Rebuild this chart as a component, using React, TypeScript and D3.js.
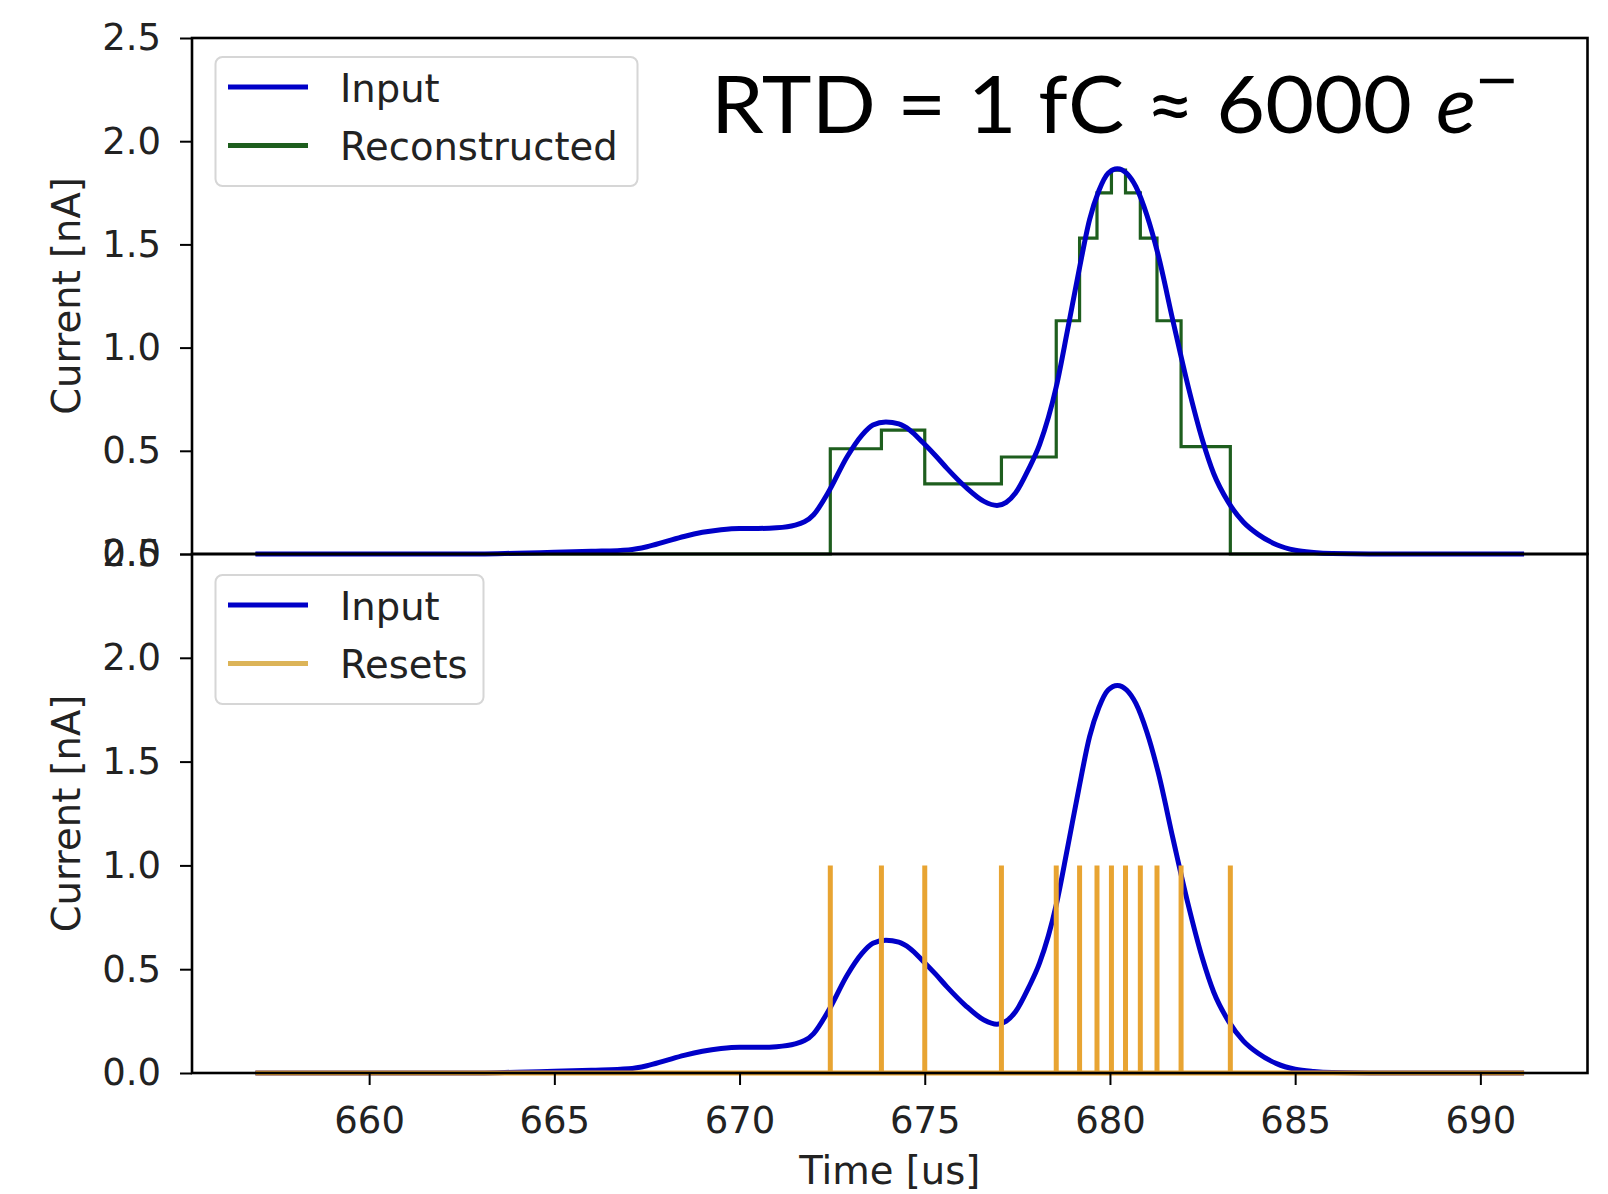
import { useEffect, useRef } from 'react';
import * as d3 from 'd3';

// input current, same trace in both panels [us, nA]
const inputTime = [
    656.93, 660, 663, 664, 665, 666, 667, 667.5, 668, 668.5, 669, 669.5, 670, 670.5, 671, 671.5,
    672, 672.4, 672.9, 673.3, 673.6, 673.95, 674.3, 674.6, 674.95, 675.3, 675.6, 676.1, 676.6,
    676.95, 677.2, 677.45, 677.8, 678.1, 678.55, 678.85, 679.15, 679.45, 679.7, 679.95, 680.2,
    680.45, 680.7, 681.0, 681.3, 681.7, 682.1, 682.5, 682.8, 683.2, 683.6, 684.0, 684.5,
    685, 685.5, 686, 687, 690, 691.18,
];
const inputCurrent = [
    0, 0, 0, 0.004, 0.008, 0.013, 0.02, 0.035, 0.06, 0.085, 0.105, 0.118, 0.124, 0.124, 0.127, 0.14,
    0.19, 0.3, 0.47, 0.575, 0.625, 0.64, 0.63, 0.6, 0.54, 0.475, 0.415, 0.325, 0.255,
    0.235, 0.25, 0.295, 0.41, 0.53, 0.81, 1.08, 1.36, 1.62, 1.76, 1.845, 1.867,
    1.845, 1.78, 1.64, 1.45, 1.13, 0.82, 0.55, 0.39, 0.25, 0.155, 0.095, 0.045,
    0.018, 0.007, 0.002, 0, 0, 0,
];

// reset pulses [us] and the reconstructed current after each reset [nA]
const resetTimes = [
    672.45, 673.83, 675.0, 677.07, 678.55, 679.18, 679.65, 680.04, 680.42, 680.82, 681.27, 681.92, 683.25,
];
const stepLevels = [0.51, 0.6, 0.34, 0.47, 1.13, 1.53, 1.75, 1.86, 1.75, 1.53, 1.13, 0.52, 0];
const resetHeight = 1.0;

const xTicks = [660, 665, 670, 675, 680, 685, 690];
const yTicks = [0, 0.5, 1.0, 1.5, 2.0, 2.5];

const BLUE = '#0000c8';
const GREEN = '#1e5e1e';
const ORANGE = '#e8a432';
const FONT = "'DejaVu Sans', sans-serif";
const NOTE_FONT = "Lato, 'DejaVu Sans', sans-serif";

const App = () => {
    const svgRef = useRef<SVGSVGElement | null>(null);

    useEffect(() => {
        const svg = d3.select(svgRef.current);
        svg.selectAll('*').remove();

        const width = 1608;
        const height = 1194;
        const left = 192;
        const right = 1587.5;
        const panels = [
            { y0: 38, y1: 554 },
            { y0: 554, y1: 1073 },
        ];

        svg.attr('width', width).attr('height', height);
        svg.append('rect').attr('width', width).attr('height', height).attr('fill', 'white');

        // x scale with matplotlib-like 5% margins
        const [lo, hi] = d3.extent(inputTime) as [number, number];
        const pad = (hi - lo) * 0.05;
        const x = d3.scaleLinear().domain([lo - pad, hi + pad]).range([left, right]);

        const input = inputTime.map((t, i) => [t, inputCurrent[i]] as [number, number]);
        const steps: [number, number][] = [
            [lo, 0],
            ...resetTimes.map((t, i) => [t, stepLevels[i]] as [number, number]),
            [hi, 0],
        ];

        panels.forEach((p, idx) => {
            const y = d3.scaleLinear().domain([0, 2.5]).range([p.y1, p.y0]);
            const g = svg.append('g');

            const smooth = d3
                .line<[number, number]>()
                .x((d) => x(d[0]))
                .y((d) => y(d[1]))
                .curve(d3.curveMonotoneX);

            if (idx === 0) {
                // reconstructed step trace
                g.append('path')
                    .attr('d', d3.line<[number, number]>().x((d) => x(d[0])).y((d) => y(d[1])).curve(d3.curveStepAfter)(steps))
                    .attr('fill', 'none')
                    .attr('stroke', GREEN)
                    .attr('stroke-width', 3.2);

                g.append('path')
                    .attr('d', smooth(input))
                    .attr('fill', 'none')
                    .attr('stroke', BLUE)
                    .attr('stroke-width', 5);
            } else {
                g.append('path')
                    .attr('d', smooth(input))
                    .attr('fill', 'none')
                    .attr('stroke', BLUE)
                    .attr('stroke-width', 5);

                // resets: baseline plus one spike per reset
                g.append('line')
                    .attr('x1', x(lo))
                    .attr('x2', x(hi))
                    .attr('y1', y(0))
                    .attr('y2', y(0))
                    .attr('stroke', ORANGE)
                    .attr('stroke-width', 5);

                g.selectAll('line.reset')
                    .data(resetTimes)
                    .enter()
                    .append('line')
                    .attr('class', 'reset')
                    .attr('x1', (d) => x(d))
                    .attr('x2', (d) => x(d))
                    .attr('y1', y(0))
                    .attr('y2', y(resetHeight))
                    .attr('stroke', ORANGE)
                    .attr('stroke-width', 5);
            }

            // y axis
            const yAxis = g
                .append('g')
                .attr('transform', `translate(${left},0)`)
                .call(
                    d3.axisLeft(y)
                        .tickValues(yTicks)
                        .tickSize(12)
                        .tickPadding(19)
                        .tickFormat(d3.format('.1f'))
                );
            yAxis.select('.domain').remove();
            yAxis.attr('font-size', 37).attr('font-family', FONT);
            yAxis.selectAll('line').attr('stroke', 'black').attr('stroke-width', 2);
            yAxis.selectAll('text').attr('fill', '#222');

            if (idx === 1) {
                const xAxis = g
                    .append('g')
                    .attr('transform', `translate(0,${p.y1})`)
                    .call(d3.axisBottom(x).tickValues(xTicks).tickSize(12).tickPadding(22).tickFormat(d3.format('d')));
                xAxis.select('.domain').remove();
                xAxis.attr('font-size', 37).attr('font-family', FONT);
                xAxis.selectAll('line').attr('stroke', 'black').attr('stroke-width', 2);
                xAxis.selectAll('text').attr('fill', '#222');
            }

            // spines
            g.append('rect')
                .attr('x', left)
                .attr('y', p.y0)
                .attr('width', right - left)
                .attr('height', p.y1 - p.y0)
                .attr('fill', 'none')
                .attr('stroke', 'black')
                .attr('stroke-width', 2.6);

            // y label
            g.append('text')
                .attr('transform', `translate(80,${(p.y0 + p.y1) / 2}) rotate(-90)`)
                .attr('text-anchor', 'middle')
                .attr('font-family', FONT)
                .attr('font-size', 38.5)
                .attr('fill', '#222')
                .text('Current [nA]');

            // legend
            const items =
                idx === 0
                    ? [
                          { label: 'Input', color: BLUE },
                          { label: 'Reconstructed', color: GREEN },
                      ]
                    : [
                          { label: 'Input', color: BLUE },
                          { label: 'Resets', color: '#dcb458' },
                      ];
            const boxTop = p.y0 + (idx === 0 ? 19 : 21);
            const boxW = idx === 0 ? 422 : 268;
            const lg = g.append('g');
            lg.append('rect')
                .attr('x', 215.5)
                .attr('y', boxTop)
                .attr('width', boxW)
                .attr('height', 129)
                .attr('rx', 7)
                .attr('fill', 'white')
                .attr('fill-opacity', 0.8)
                .attr('stroke', '#d6d6d6')
                .attr('stroke-width', 2);
            items.forEach((it, i) => {
                const ly = boxTop + 30 + i * 58.5;
                lg.append('line')
                    .attr('x1', 228)
                    .attr('x2', 308)
                    .attr('y1', ly)
                    .attr('y2', ly)
                    .attr('stroke', it.color)
                    .attr('stroke-width', 5);
                lg.append('text')
                    .attr('x', 340)
                    .attr('y', ly + 14.5)
                    .attr('font-family', FONT)
                    .attr('font-size', 38.5)
                    .attr('fill', '#222')
                    .text(it.label);
            });
        });

        // x label
        svg.append('text')
            .attr('x', (left + right) / 2)
            .attr('y', 1184)
            .attr('text-anchor', 'middle')
            .attr('font-family', FONT)
            .attr('font-size', 38.5)
            .attr('fill', '#222')
            .text('Time [us]');

        // annotation
        const note = svg.append('g').attr('fill', 'black');
        note.append('text')
            .attr('x', 711)
            .attr('y', 133)
            .attr('font-family', NOTE_FONT)
            .attr('font-size', 80)
            .attr('textLength', 701)
            .attr('lengthAdjust', 'spacingAndGlyphs')
            .text('RTD = 1 fC ≈ 6000');
        note.append('text')
            .attr('x', 1436)
            .attr('y', 133)
            .attr('font-family', NOTE_FONT)
            .attr('font-style', 'italic')
            .attr('font-size', 80)
            .attr('textLength', 40)
            .attr('lengthAdjust', 'spacingAndGlyphs')
            .text('e');
        note.append('text')
            .attr('x', 1474)
            .attr('y', 98)
            .attr('font-family', FONT)
            .attr('font-size', 54)
            .text('−');
    }, []);

    return (
        <div style={{ position: 'absolute', left: 0, top: 0 }}>
            <svg ref={svgRef}></svg>
        </div>
    );
};

export default App;
